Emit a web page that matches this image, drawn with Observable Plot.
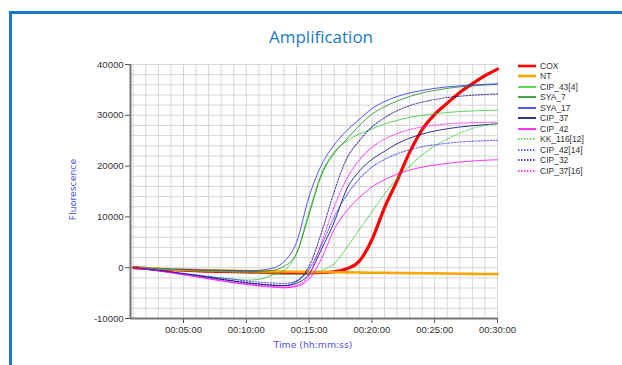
<!DOCTYPE html>
<html><head><meta charset="utf-8">
<script src="https://cdn.jsdelivr.net/npm/d3@7"></script>
<script src="https://cdn.jsdelivr.net/npm/@observablehq/plot@0.6"></script>
<style>
body{margin:0;background:#fff;overflow:hidden}
#wrap{position:relative;width:622px;height:365px;overflow:hidden;font-family:"Liberation Sans",Arial,sans-serif}
#frame{position:absolute;left:9px;top:11px;width:700px;height:400px;border-left:3px solid #1b79c4;border-top:3px solid #1b79c4}
#title{position:absolute;left:0;width:642px;top:25px;text-align:center;font-family:"Open Sans",sans-serif;font-size:17px;color:#1b79c4;line-height:23px}
#chart{position:absolute;left:0;top:0}
#legend{position:absolute;left:518px;top:60.5px;font-size:8.5px;color:#333}
.row{height:10.53px;display:flex;align-items:center;white-space:nowrap}
.row svg{margin-right:4px}
#xlab{position:absolute;left:213px;width:200px;top:339px;text-align:center;font-family:"DejaVu Sans",sans-serif;font-size:9.3px;color:#5050ee}
#ylab{position:absolute;left:22px;width:100px;top:184px;text-align:center;font-family:"DejaVu Sans",sans-serif;font-size:9.3px;color:#5050ee;transform:rotate(-90deg)}
</style></head>
<body><div id="wrap"><div id="frame"></div><div id="chart"></div><div id="title">Amplification</div><div id="legend"></div><div id="xlab">Time (hh:mm:ss)</div><div id="ylab">Fluorescence</div></div>
<script>
// time in minutes
const minutes = [1,2,3,4,5,6,7,8,9,10,11,12,13,14,15,16,17,18,19,20,21,22,23,24,25,26,27,28,29,30];
const seriesNames = ["COX","NT","CIP_43[4]","SYA_7","SYA_17","CIP_37","CIP_42","KK_116[12]","CIP_42[14]","CIP_32","CIP_37[16]"];
const cox      = [0,-150,-300,-400,-500,-600,-700,-750,-800,-850,-900,-950,-1000,-1000,-1000,-950,-800,-200,1300,5500,11800,17100,22700,27200,30200,32400,34500,36200,37800,39100];
const nt       = [0,-100,-200,-300,-400,-450,-500,-550,-600,-650,-700,-730,-760,-800,-830,-860,-890,-920,-950,-980,-1000,-1030,-1060,-1090,-1120,-1150,-1180,-1210,-1240,-1260];
const cip43_4  = [0,-300,-600,-900,-1200,-1500,-1800,-2050,-2250,-2450,-2300,-1500,-550,2800,11000,18600,22800,24900,26300,27300,28300,29000,29600,30000,30300,30550,30750,30850,30950,31000];
const sya7     = [0,-100,-200,-300,-400,-500,-600,-650,-700,-750,-750,-550,250,2800,10500,18300,22500,25300,28000,30200,31700,32800,33700,34400,34900,35300,35600,35800,35950,36100];
const sya17    = [0,-100,-200,-300,-350,-400,-450,-500,-550,-600,-500,-150,1200,5000,14000,20300,24200,27000,29200,31300,32700,33700,34400,34900,35300,35600,35800,35950,36100,36200];
const cip37    = [0,-250,-550,-850,-1200,-1550,-1900,-2300,-2650,-3000,-3250,-3450,-3550,-3100,-1200,3700,9000,15500,19000,21300,22900,24400,25500,26300,26900,27350,27700,27950,28150,28350];
const cip42    = [0,-300,-650,-1000,-1400,-1800,-2200,-2600,-3000,-3300,-3600,-3800,-3950,-3700,-2200,1800,7600,11200,13800,15900,17300,18400,19200,19800,20200,20550,20800,21000,21150,21250];
const kk116_12 = [0,-100,-200,-350,-500,-600,-700,-800,-900,-1000,-1100,-1200,-1300,-1350,-1200,-500,800,4000,7500,11000,14500,17500,20000,22200,23900,25300,26500,27400,28000,28400];
const cip42_14 = [0,-250,-500,-800,-1100,-1400,-1700,-2000,-2300,-2600,-2850,-3000,-3100,-2600,-300,4500,10000,14300,17500,19800,21300,22400,23200,23800,24200,24500,24750,24900,25000,25100];
const cip32    = [0,-250,-550,-850,-1200,-1550,-1900,-2250,-2600,-2900,-3200,-3400,-3500,-2700,300,7000,15000,21500,25000,27700,29500,30900,31900,32600,33100,33500,33750,33950,34100,34200];
const cip37_16 = [0,-300,-600,-950,-1300,-1700,-2100,-2500,-2850,-3150,-3450,-3650,-3800,-3500,-1500,5000,12000,17500,21200,23700,25300,26400,27200,27700,28050,28300,28450,28550,28620,28680];
const xTicks = [5,10,15,20,25,30];
const xTickLabels = ["00:05:00","00:10:00","00:15:00","00:20:00","00:25:00","00:30:00"];
const yTicks = [-10000,0,10000,20000,30000,40000];

const seriesValues = [cox,nt,cip43_4,sya7,sya17,cip37,cip42,kk116_12,cip42_14,cip32,cip37_16];
const styles = [
  {color:"#ff0000",width:3.2,dash:null,op:1},
  {color:"#ffa500",width:2.6,dash:null,op:1},
  {color:"#33cc33",width:1,dash:null,op:0.8},
  {color:"#1a8c1a",width:1,dash:null,op:0.8},
  {color:"#2b2bff",width:1,dash:null,op:0.8},
  {color:"#00007f",width:1,dash:null,op:0.8},
  {color:"#ff00ff",width:1,dash:null,op:0.8},
  {color:"#33cc33",width:1.1,dash:"1.5,1.5",op:0.7},
  {color:"#2b2bff",width:1.1,dash:"1.5,1.5",op:0.7},
  {color:"#00007f",width:1.1,dash:"1.5,1.5",op:0.7},
  {color:"#ff00ff",width:1.1,dash:"1.5,1.5",op:0.7}
];
const rows = [];
seriesNames.forEach((s,i)=>minutes.forEach((t,j)=>rows.push({series:s,t,v:seriesValues[i][j]})));
const x0 = 0.78;
const chart = Plot.plot({
  width:622,height:365,marginLeft:130,marginRight:125,marginTop:64,marginBottom:47,
  style:{fontFamily:"Liberation Sans, Arial, sans-serif",fontSize:"9.5px",color:"#333",background:"transparent"},
  x:{domain:[x0,30]},
  y:{domain:[-10000,40000]},
  marks:[
    Plot.gridX(d3.range(1,31),{stroke:"#d6d6d6",strokeOpacity:1,strokeWidth:1}),
    Plot.gridY(d3.range(-10000,40001,2000),{stroke:"#d6d6d6",strokeOpacity:1,strokeWidth:1}),
    Plot.axisX(xTicks,{tickFormat:(d,i)=>xTickLabels[i],tickSize:5,tickPadding:3,label:null,stroke:"#555"}),
    Plot.axisY(yTicks,{tickFormat:d=>String(d),tickSize:5,tickPadding:2,label:null,stroke:"#555"}),
    Plot.ruleX([x0],{stroke:"#777",strokeWidth:2}),
    Plot.ruleY([-10000],{stroke:"#777",strokeWidth:2}),
    ...seriesNames.map((s,i)=>Plot.line(rows.filter(r=>r.series===s),{x:"t",y:"v",stroke:styles[i].color,strokeWidth:styles[i].width,strokeDasharray:styles[i].dash,strokeOpacity:styles[i].op,curve:"monotone-x"}))
  ]
});
document.getElementById("chart").appendChild(chart);
const lg = document.getElementById("legend");
seriesNames.forEach((s,i)=>{
  const st = styles[i];
  const r = document.createElement("div"); r.className="row";
  r.innerHTML = `<svg width="18" height="6"><line x1="0" x2="18" y1="3" y2="3" stroke="${st.color}" stroke-width="${st.dash?1.3:(i<2?2.6:1.6)}" ${st.dash?'stroke-dasharray="1.5,1.5"':''}/></svg><span>${s}</span>`;
  lg.appendChild(r);
});
</script></body></html>
